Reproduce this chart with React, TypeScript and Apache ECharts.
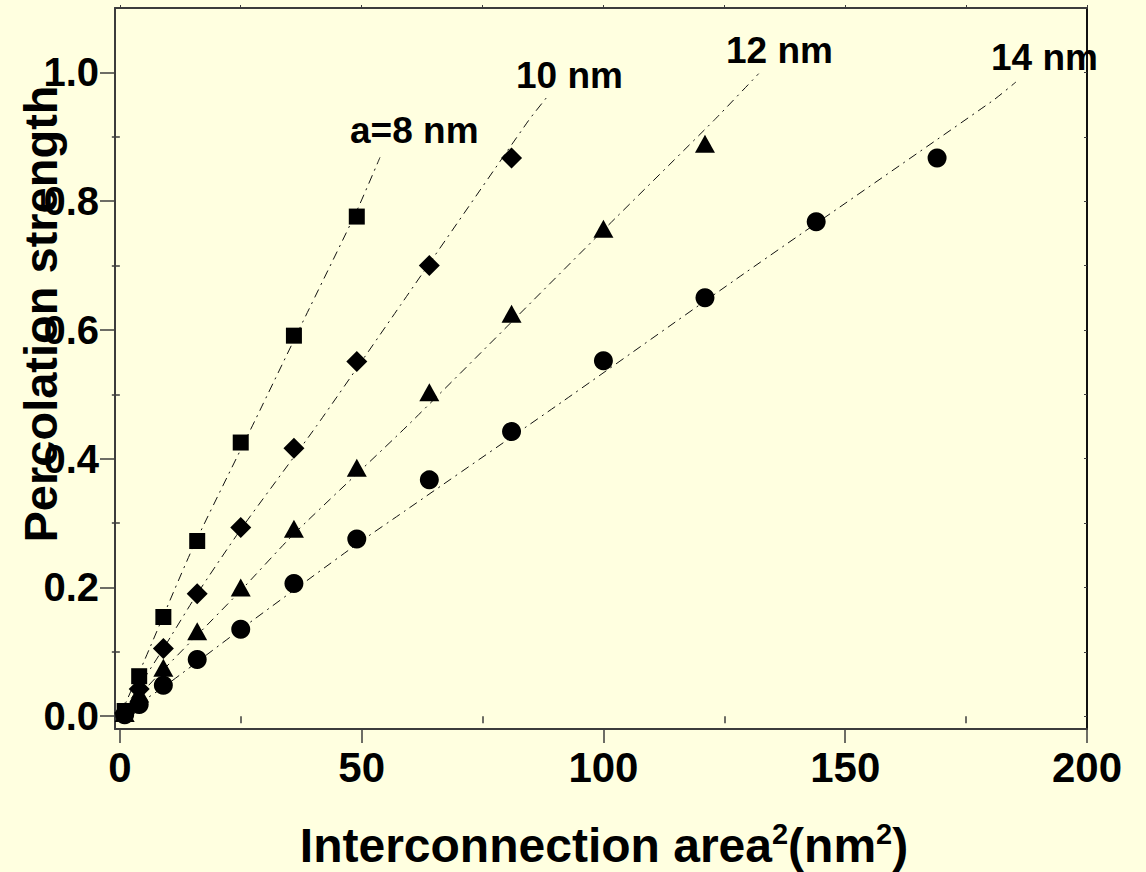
import React, { useEffect, useRef } from "react";
import * as echarts from "echarts";

// Interconnection area (nm^2) and percolation strength
const area8 = [1, 4, 9, 16, 25, 36, 49];
const strength8 = [0.008, 0.062, 0.154, 0.272, 0.425, 0.591, 0.776];
const area10 = [1, 4, 9, 16, 25, 36, 49, 64, 81];
const strength10 = [0.005, 0.042, 0.105, 0.19, 0.293, 0.416, 0.551, 0.7, 0.867];
const area12 = [1, 4, 9, 16, 25, 36, 49, 64, 81, 100, 121];
const strength12 = [0.005, 0.035, 0.075, 0.132, 0.2, 0.291, 0.386, 0.503, 0.625, 0.757, 0.889];
const area14 = [1, 4, 9, 16, 25, 36, 49, 64, 81, 100, 121, 144, 169];
const strength14 = [0.002, 0.018, 0.048, 0.088, 0.135, 0.206, 0.275, 0.367, 0.442, 0.552, 0.65, 0.768, 0.867];

// dash-dot guide lines
const fit8 = [[0, 0], [5, 0.085], [15, 0.26], [28, 0.46], [38, 0.615], [49, 0.785], [53.8, 0.868]];
const fit10 = [[0, 0], [9, 0.105], [16, 0.19], [25, 0.29], [40.7, 0.451], [58, 0.638], [84.5, 0.925], [88.8, 0.966]];
const fit12 = [[0, 0], [9, 0.072], [25, 0.195], [36, 0.283], [60, 0.455], [100, 0.755], [122.8, 0.925], [132.1, 0.998]];
const fit14 = [[0, 0], [9, 0.045], [25, 0.135], [49, 0.267], [59, 0.319], [91.8, 0.49], [129, 0.687], [180.5, 0.956], [185.3, 0.985]];

const seriesNames = ["a=8 nm", "10 nm", "12 nm", "14 nm"];

const xMajorTicks = [0, 50, 100, 150, 200];
const xMinorTicks = [25, 75, 125, 175];
const xTopTicks = [0, 25, 50, 75, 100, 125, 150, 175, 200];
const yMajorTicks = [0, 0.2, 0.4, 0.6, 0.8, 1.0];
const yMinorTicks = [0.1, 0.3, 0.5, 0.7, 0.9];
const yRightTicks = [0, 0.1, 0.2, 0.3, 0.4, 0.5, 0.6, 0.7, 0.8, 0.9, 1.0];

const xTitle = "Interconnection area";
const yTitle = "Percolation strength";

const FONT = "'Liberation Sans', Arial, Helvetica, sans-serif";
const AXIS_COLOR = "#3c3c3c";

function pairs(xs: number[], ys: number[]) {
  return xs.map((x, i) => [x, ys[i]]);
}

export default function App() {
  const ref = useRef<HTMLDivElement>(null);

  useEffect(() => {
    document.body.style.margin = "0";
    const chart = echarts.init(ref.current!, undefined, { renderer: "svg" });
    const axisLine = { show: true, onZero: false, lineStyle: { color: AXIS_COLOR, width: 2 } };
    const xBase = { type: "value", min: -1, max: 200, splitLine: { show: false } };
    const yBase = { type: "value", min: -0.02, max: 1.1, splitLine: { show: false } };

    const fitLine = (data: number[][]) => ({
      type: "line",
      data,
      showSymbol: false,
      symbol: "none",
      smooth: 0.2,
      silent: true,
      z: 1,
      lineStyle: { color: "#111", width: 1, type: [9, 5, 2, 5] },
    });
    const marks = (name: string, data: number[][], symbol: string, size: any) => ({
      type: "scatter",
      name,
      data,
      symbol,
      symbolSize: size,
      z: 3,
      itemStyle: { color: "#000", opacity: 1 },
    });

    chart.setOption({
      animation: false,
      backgroundColor: "#FFFFE0",
      grid: { left: 115, top: 8, right: 59, bottom: 143 },
      xAxis: [
        {
          ...xBase,
          position: "bottom",
          axisLine,
          axisTick: { show: true, customValues: xMajorTicks, length: 14, lineStyle: { color: AXIS_COLOR, width: 1.5 } },
          axisLabel: {
            customValues: xMajorTicks,
            fontSize: 42,
            fontWeight: "bold",
            fontFamily: FONT,
            color: "#000",
            margin: 17,
          },
        },
        {
          ...xBase,
          position: "bottom",
          axisLine: { show: false },
          axisTick: { show: true, customValues: xMinorTicks, length: 7, lineStyle: { color: AXIS_COLOR, width: 1.5 } },
          axisLabel: { show: false },
        },
        {
          ...xBase,
          position: "top",
          axisLine,
          axisTick: { show: true, customValues: xTopTicks, length: 3, lineStyle: { color: AXIS_COLOR, width: 1 } },
          axisLabel: { show: false },
        },
      ],
      yAxis: [
        {
          ...yBase,
          position: "left",
          axisLine,
          axisTick: { show: true, customValues: yMajorTicks, length: 15, lineStyle: { color: AXIS_COLOR, width: 1.5 } },
          axisLabel: {
            customValues: yMajorTicks,
            formatter: (v: number) => v.toFixed(1),
            fontSize: 40,
            fontWeight: "bold",
            fontFamily: FONT,
            color: "#000",
            margin: 16,
          },
        },
        {
          ...yBase,
          position: "left",
          axisLine: { show: false },
          axisTick: { show: true, customValues: yMinorTicks, length: 8, lineStyle: { color: AXIS_COLOR, width: 1.5 } },
          axisLabel: { show: false },
        },
        {
          ...yBase,
          position: "right",
          axisLine: { show: true, onZero: false, lineStyle: { color: "#111", width: 2 } },
          axisTick: { show: true, inside: true, customValues: yRightTicks, length: 3, lineStyle: { color: AXIS_COLOR, width: 1 } },
          axisLabel: { show: false },
        },
      ],
      series: [
        fitLine(fit8),
        fitLine(fit10),
        fitLine(fit12),
        fitLine(fit14),
        marks(seriesNames[0], pairs(area8, strength8), "rect", 16),
        marks(seriesNames[1], pairs(area10, strength10), "diamond", 21),
        marks(seriesNames[2], pairs(area12, strength12), "triangle", [20, 18]),
        marks(seriesNames[3], pairs(area14, strength14), "circle", 19),
      ],
      graphic: [
        {
          type: "text",
          x: 40,
          y: 314,
          rotation: Math.PI / 2,
          z: 10,
          style: {
            text: yTitle,
            fontSize: 47,
            fontWeight: "bold",
            fontFamily: FONT,
            fill: "#000",
            align: "center",
            verticalAlign: "middle",
          },
        },
        {
          type: "text",
          x: 604,
          y: 845,
          z: 10,
          style: {
            text: "{m|" + xTitle + "}{s|2}{m|(nm}{s|2}{m|)}",
            align: "center",
            verticalAlign: "middle",
            fill: "#000",
            rich: {
              m: { fontSize: 48, fontWeight: "bold", fontFamily: FONT, fill: "#000", lineHeight: 52 },
              s: { fontSize: 29, fontWeight: "bold", fontFamily: FONT, fill: "#000", verticalAlign: "top", lineHeight: 52 },
            },
          },
        },
        ...[
          [350, 130],
          [516, 75],
          [726, 50],
          [991, 57],
        ].map(([x, y], i) => ({
          type: "text",
          x,
          y,
          z: 10,
          style: {
            text: seriesNames[i],
            fontSize: 37,
            fontWeight: "bold",
            fontFamily: FONT,
            fill: "#000",
            align: "left",
            verticalAlign: "middle",
          },
        })),
      ],
    });
    return () => chart.dispose();
  }, []);

  return <div ref={ref} style={{ position: "fixed", left: 0, top: 0, width: 1146, height: 872 }} />;
}
